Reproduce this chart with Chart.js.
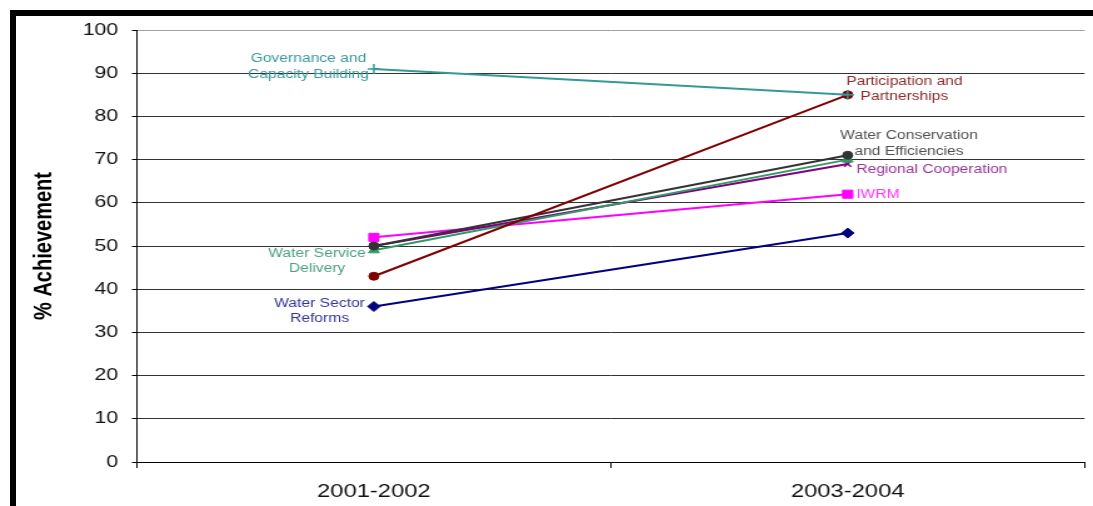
<!DOCTYPE html>
<html>
<head>
<meta charset="utf-8">
<script src="https://cdn.jsdelivr.net/npm/chart.js@4"></script>
<style>
  html, body { margin: 0; padding: 0; background: #fff; width: 1093px; height: 506px; overflow: hidden; }
  #frame { position: absolute; left: 10px; top: 10px; width: 1090px; height: 500px; border-top: 6px solid #000; border-left: 6px solid #000; }
  #c { position: absolute; left: 0; top: 0; }
</style>
</head>
<body>
<div id="frame"></div>
<canvas id="c" width="874" height="506" style="width:1093px;height:506px;"></canvas>
<script>
// ---- data ----
const categories = ['2001-2002', '2003-2004'];
const governance = [91, 85];
const participation = [43, 85];
const conservation = [50, 71];
const serviceDelivery = [49, 70];
const regional = [50, 69];
const iwrm = [52, 62];
const reforms = [36, 53];
const yMin = 0, yMax = 100, yStep = 10;
const yTitle = '% Achievement';

const governanceLabel = ['Governance and', 'Capacity Building'];
const participationLabel = ['Participation and', 'Partnerships'];
const conservationLabel = ['Water Conservation', 'and Efficiencies'];
const serviceLabel = ['Water Service', 'Delivery'];
const regionalLabel = ['Regional Cooperation'];
const iwrmLabel = ['IWRM'];
const reformsLabel = ['Water Sector', 'Reforms'];

// ---- styling ----
const FONT = '"Liberation Sans", Arial, Helvetica, sans-serif';

function series(label, data, color, style, lines, labelColor, place) {
  return Object.assign({
    label: label,
    data: data,
    borderColor: color,
    backgroundColor: color,
    pointBackgroundColor: color,
    pointBorderColor: color,
    borderWidth: 2,
    tension: 0,
    fill: false,
    labelLines: lines,
    labelCfg: Object.assign({ color: labelColor }, place)
  }, style);
}

const datasets = [
  series('Governance and Capacity Building', governance, '#339999',
    { pointStyle: 'cross', pointRadius: 5, pointBorderWidth: 1.5 },
    governanceLabel, '#3a9a9a', { index: 0, side: 'left', dx: -4, dy: -2.5 }),
  series('Participation and Partnerships', participation, '#800000',
    { pointStyle: 'circle', pointRadius: 4, pointBorderWidth: 1 },
    participationLabel, '#8b2a2a', { index: 1, side: 'right', dx: -1.2, dy: -5.8 }),
  series('Water Conservation and Efficiencies', conservation, '#333333',
    { pointStyle: 'circle', pointRadius: 4, pointBorderWidth: 1 },
    conservationLabel, '#505050', { index: 1, side: 'right', dx: -6, dy: -11.8 }),
  series('Water Service Delivery', serviceDelivery, '#339966',
    { pointStyle: 'triangle', pointRadius: 5, pointBorderWidth: 1 },
    serviceLabel, '#4c9f80', { index: 0, side: 'left', dx: -6.4, dy: 10.7 }),
  series('Regional Cooperation', regional, '#800080',
    { pointStyle: 'crossRot', pointRadius: 4, pointBorderWidth: 1.5 },
    regionalLabel, '#993399', { index: 1, side: 'right', dx: 6.8, dy: 6 }),
  series('IWRM', iwrm, '#ff00ff',
    { pointStyle: 'rect', pointRadius: 5.7, pointBorderWidth: 1 },
    iwrmLabel, '#ff33ff', { index: 1, side: 'right', dx: 6.8, dy: 0 }),
  series('Water Sector Reforms', reforms, '#000080',
    { pointStyle: 'rectRot', pointRadius: 5, pointBorderWidth: 1 },
    reformsLabel, '#333399', { index: 0, side: 'left', dx: -7.2, dy: 4.5 })
];

const labelPlugin = {
  id: 'seriesLabels',
  afterDatasetsDraw(chart) {
    const ctx = chart.ctx;
    chart.data.datasets.forEach((ds, i) => {
      const cfg = ds.labelCfg;
      if (!cfg) return;
      const meta = chart.getDatasetMeta(i);
      const pt = meta.data[cfg.index];
      if (!pt) return;
      ctx.save();
      ctx.font = '12.5px ' + FONT;
      ctx.fillStyle = cfg.color;
      ctx.textBaseline = 'middle';
      ctx.textAlign = 'center';
      const lines = ds.labelLines;
      const w = Math.max(...lines.map(l => ctx.measureText(l).width));
      const cx = cfg.side === 'left' ? pt.x + cfg.dx - w / 2 : pt.x + cfg.dx + w / 2;
      const lh = 15.5;
      const y0 = pt.y + cfg.dy - (lines.length - 1) * lh / 2;
      lines.forEach((l, k) => ctx.fillText(l, cx, y0 + k * lh));
      ctx.restore();
    });
  }
};

new Chart(document.getElementById('c'), {
  type: 'line',
  data: { labels: categories, datasets: datasets },
  options: {
    responsive: false,
    animation: false,
    devicePixelRatio: 1,
    layout: { padding: { left: 23, right: 5, top: 30, bottom: 0 } },
    plugins: { legend: { display: false }, tooltip: { enabled: false } },
    scales: {
      x: {
        type: 'category',
        offset: true,
        afterFit: (s) => { s.height = 44; },
        grid: {
          offset: true,
          drawOnChartArea: true,
          color: (c) => (c.index === categories.length ? '#a0a0a0' : 'rgba(0,0,0,0)'),
          tickColor: '#000',
          tickLength: 6,
          lineWidth: 1
        },
        border: { display: true, color: '#000', width: 1 },
        ticks: { color: '#111', font: { family: FONT, size: 19 }, padding: 12, maxRotation: 0 }
      },
      y: {
        min: yMin,
        max: yMax,
        afterFit: (s) => { s.width = 86.5; },
        grid: {
          color: (c) => (c.tick && c.tick.value === yMax ? '#a0a0a0' : '#333'),
          tickColor: '#000',
          tickLength: 4,
          lineWidth: 1
        },
        border: { display: true, color: '#000', width: 1 },
        ticks: { stepSize: yStep, color: '#111', font: { family: FONT, size: 17 }, padding: 11 },
        title: {
          display: true,
          text: yTitle,
          color: '#000',
          font: { family: FONT, size: 20, weight: 'bold' },
          padding: { top: 0, bottom: 0 }
        }
      }
    }
  },
  plugins: [labelPlugin]
});
</script>
</body>
</html>
